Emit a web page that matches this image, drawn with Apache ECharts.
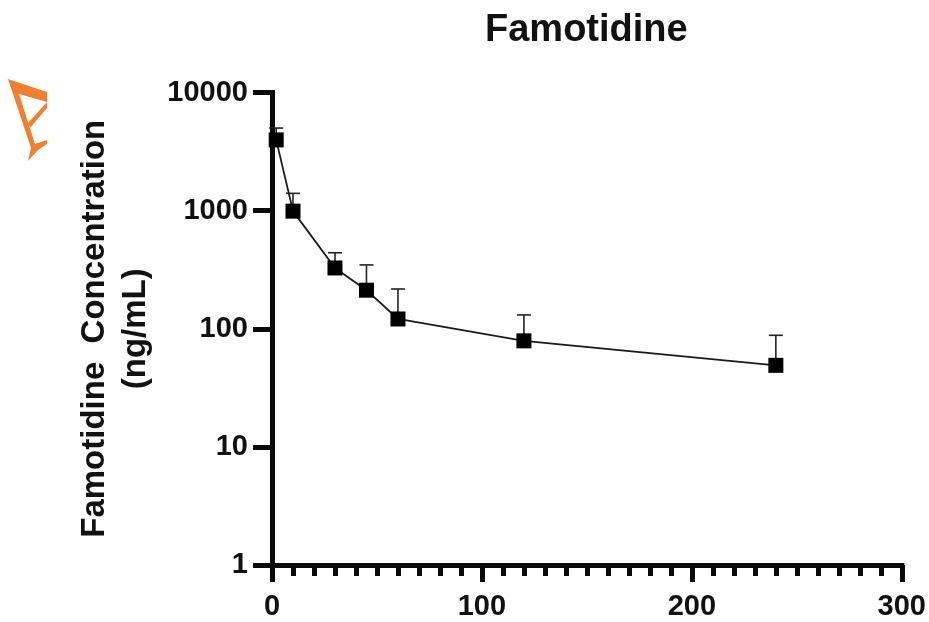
<!DOCTYPE html>
<html>
<head>
<meta charset="utf-8">
<style>html,body{margin:0;padding:0;background:#fff}#c{width:929px;height:622px}</style>
<script src="https://cdn.jsdelivr.net/npm/echarts@6/dist/echarts.min.js"></script>
</head>
<body>
<div id="c"></div>
<script>
const times = [2, 10, 30, 45, 60, 120, 240];
const means = [3970, 990, 327, 212, 121, 79, 49];
const upper = [5000, 1400, 440, 347, 217, 131, 88];
const yTicks = [1, 10, 100, 1000, 10000];
const titleText = 'Famotidine';
const yName = 'Famotidine  Concentration\n(ng/mL)';

const chart = echarts.init(document.getElementById('c'), null, {renderer: 'canvas'});
const font = '"Liberation Sans", Arial, sans-serif';
const ink = '#0a0a0a';
chart.setOption({
  animation: false,
  backgroundColor: '#fff',
  title: {
    text: titleText, left: 480, top: 7,
    textStyle: {fontFamily: font, fontWeight: 'bold', fontSize: 38, color: '#111'}
  },
  grid: {left: 272, top: 92.5, width: 630, height: 472.5, containLabel: false},
  xAxis: {
    type: 'value', min: 0, max: 300, interval: 100,
    axisLine: {show: true, onZero: false, lineStyle: {color: ink, width: 5, cap: 'square'}},
    axisTick: {show: true, length: 17, lineStyle: {color: ink, width: 5}},
    minorTick: {show: true, splitNumber: 10, length: 11, lineStyle: {color: ink, width: 5}},
    splitLine: {show: false}, minorSplitLine: {show: false},
    axisLabel: {fontFamily: font, fontWeight: 'bold', fontSize: 29, color: '#111', margin: 27, showMinLabel: true, showMaxLabel: true}
  },
  yAxis: {
    type: 'log', logBase: 10, min: yTicks[0], max: yTicks[yTicks.length - 1],
    name: yName, nameLocation: 'middle', nameGap: 112, nameRotate: 90,
    nameTextStyle: {fontFamily: font, fontWeight: 'bold', fontSize: 33, color: '#111', lineHeight: 41, align: 'center'},
    axisLine: {show: true, onZero: false, lineStyle: {color: ink, width: 5, cap: 'square'}},
    axisTick: {show: true, length: 19, lineStyle: {color: ink, width: 5}},
    minorTick: {show: false},
    splitLine: {show: false}, minorSplitLine: {show: false},
    axisLabel: {fontFamily: font, fontWeight: 'bold', fontSize: 29, color: '#111', margin: 24, formatter: v => String(Math.round(v))}
  },
  series: [
    {
      type: 'custom', z: 2, clip: false,
      data: times.map((t, i) => [t, means[i], upper[i]]),
      encode: {x: 0, y: [1, 2]},
      renderItem(params, api) {
        const a = api.coord([api.value(0), api.value(1)]);
        const b = api.coord([api.value(0), api.value(2)]);
        const style = {stroke: '#222', lineWidth: 1.6, fill: null};
        return {type: 'group', children: [
          {type: 'line', shape: {x1: a[0], y1: a[1], x2: b[0], y2: b[1]}, style},
          {type: 'line', shape: {x1: b[0] - 7, y1: b[1], x2: b[0] + 7, y2: b[1]}, style}
        ]};
      }
    },
    {
      type: 'line', z: 3, clip: false,
      data: times.map((t, i) => [t, means[i]]),
      symbol: 'rect', symbolSize: 15, showSymbol: true,
      itemStyle: {color: '#000'},
      lineStyle: {color: '#1a1a1a', width: 1.8}
    }
  ],
  graphic: [
    {type: 'polygon', shape: {points: [[8, 79], [47, 92], [47, 102], [19, 94], [35, 144], [47, 140], [47, 144], [38, 150], [28, 161], [31, 148]]}, style: {fill: '#f08030'}},
    {type: 'polygon', shape: {points: [[47, 102], [47, 108], [30, 128], [28, 123]]}, style: {fill: '#f08030'}}
  ]
});
</script>
</body>
</html>
